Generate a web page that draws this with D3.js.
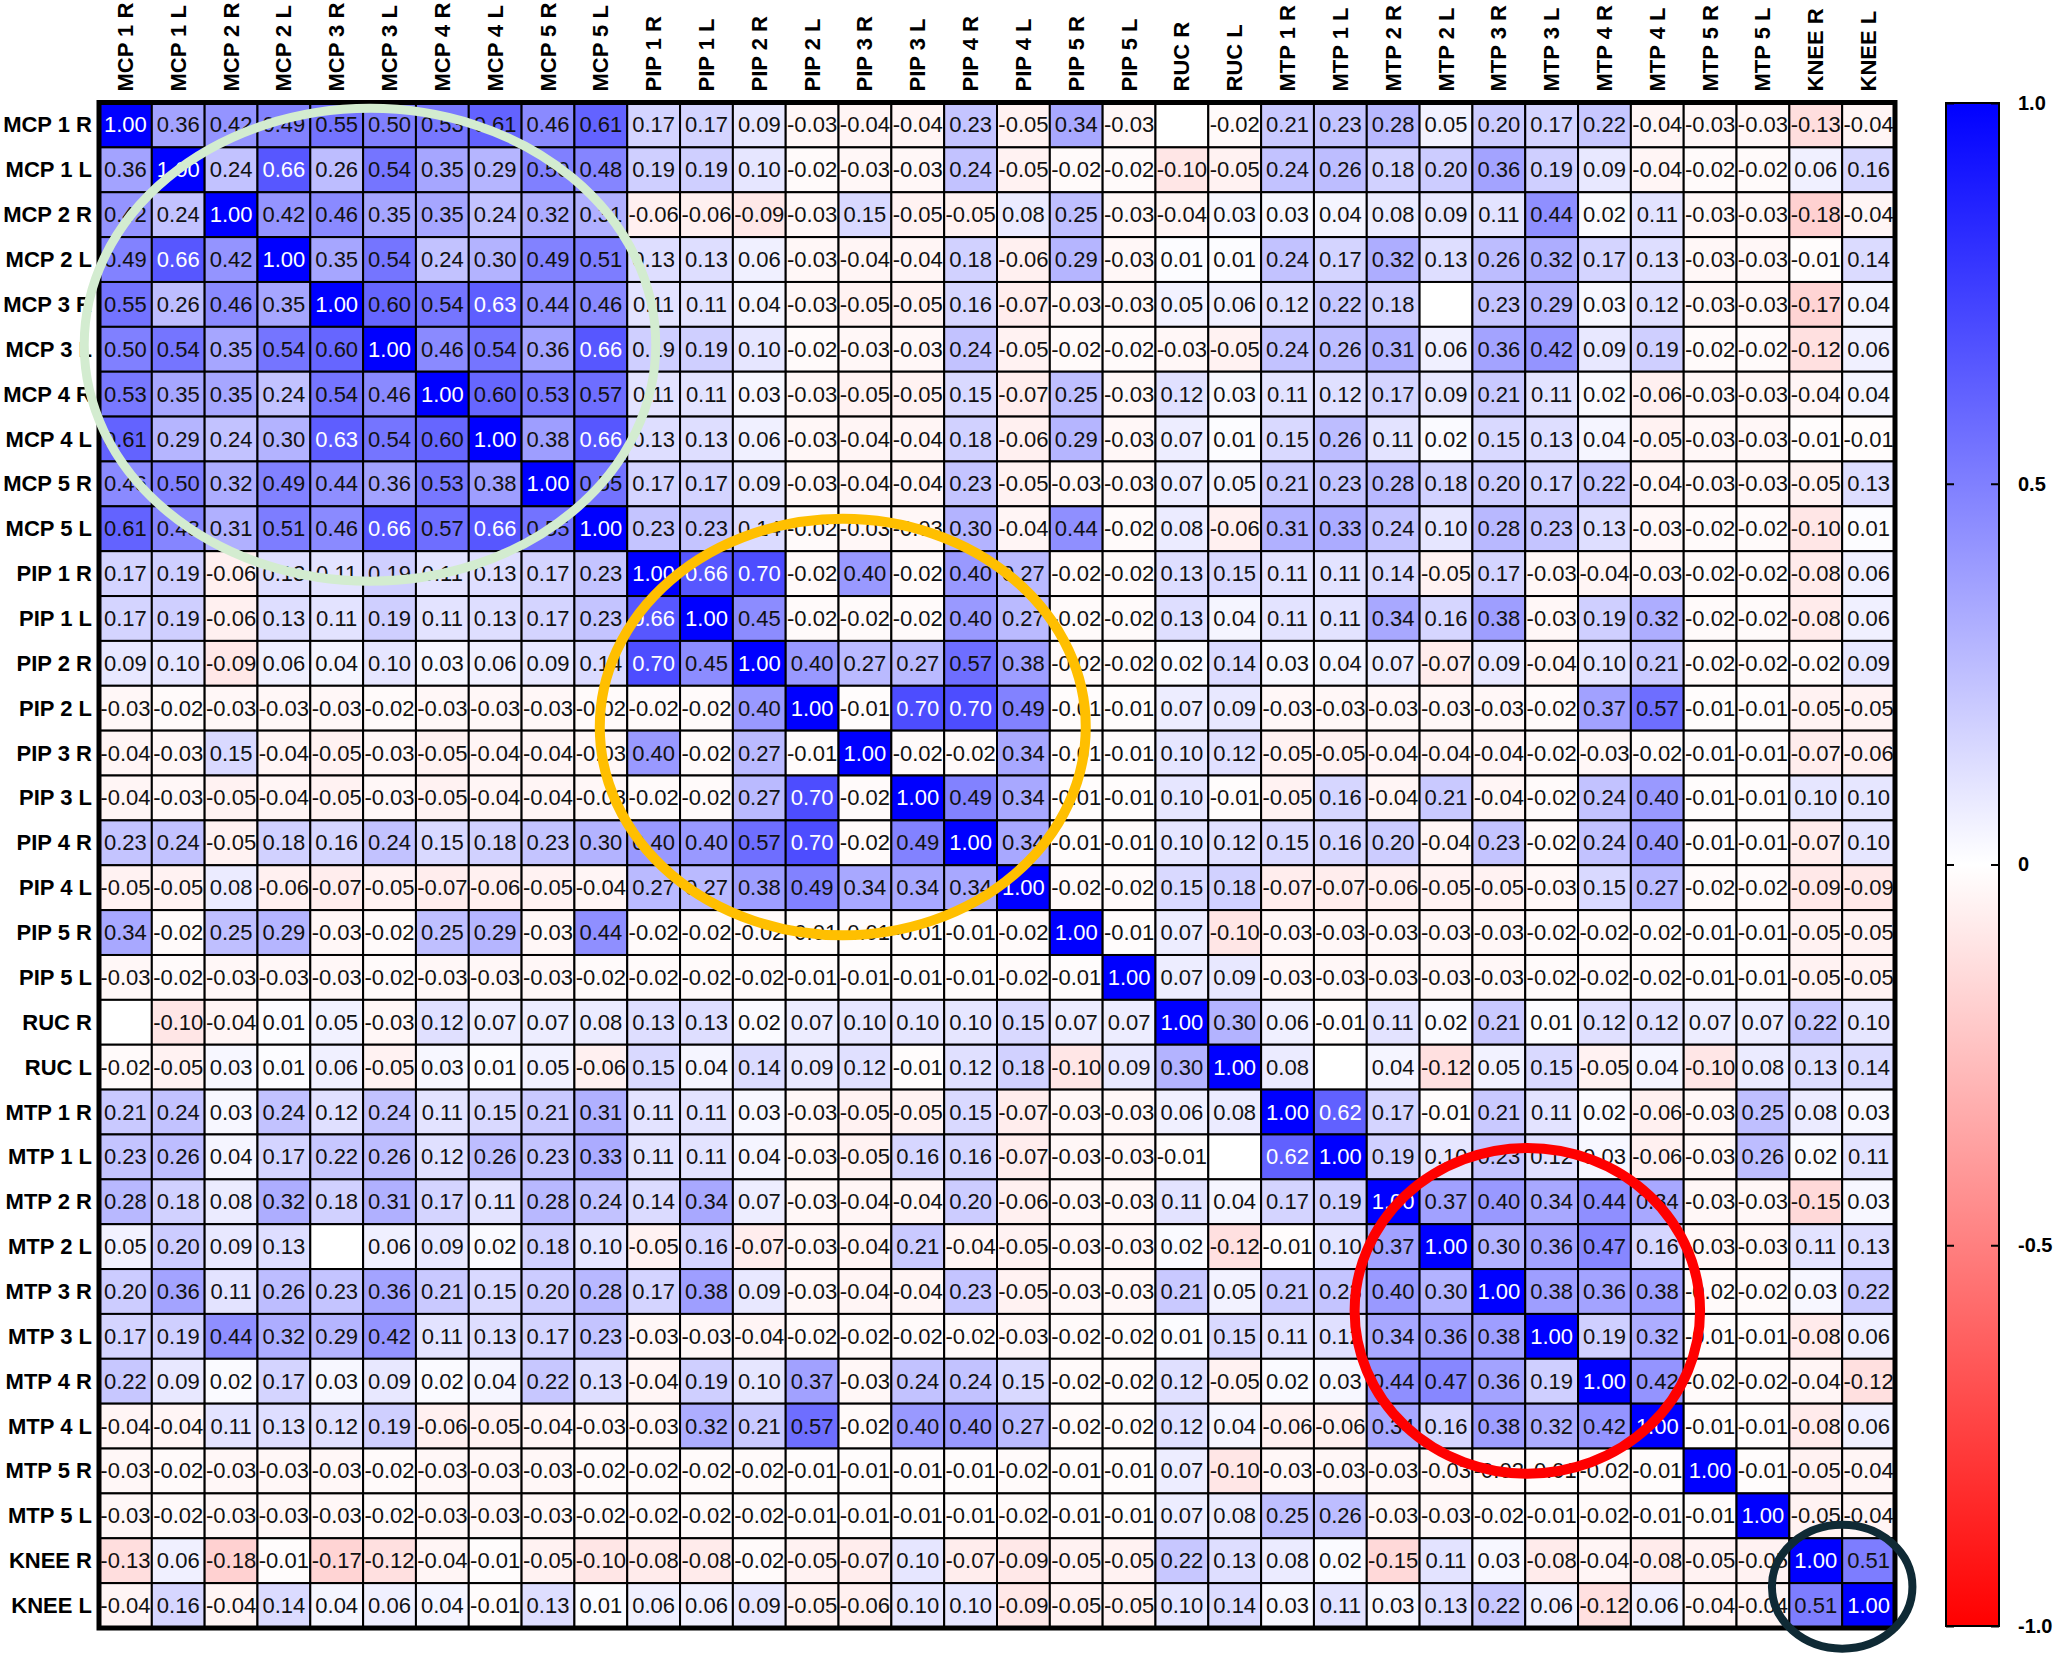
<!DOCTYPE html>
<html>
<head>
<meta charset="utf-8">
<script src="https://cdn.jsdelivr.net/npm/d3@7"></script>
<style>
  html, body { margin: 0; padding: 0; background: #ffffff; }
  svg { display: block; }
  text { font-family: "Liberation Sans", Arial, Helvetica, sans-serif; }
</style>
</head>
<body>
<svg id="chart" width="2056" height="1656"></svg>
<script>
// ---------------- DATA ----------------
const categories = [
  "MCP 1 R","MCP 1 L","MCP 2 R","MCP 2 L","MCP 3 R","MCP 3 L","MCP 4 R","MCP 4 L","MCP 5 R","MCP 5 L",
  "PIP 1 R","PIP 1 L","PIP 2 R","PIP 2 L","PIP 3 R","PIP 3 L","PIP 4 R","PIP 4 L","PIP 5 R","PIP 5 L",
  "RUC R","RUC L","MTP 1 R","MTP 1 L","MTP 2 R","MTP 2 L","MTP 3 R","MTP 3 L","MTP 4 R","MTP 4 L",
  "MTP 5 R","MTP 5 L","KNEE R","KNEE L"
];

// correlation matrix, one row per category (null = blank cell)
const values = [
  [1.00,0.36,0.42,0.49,0.55,0.50,0.53,0.61,0.46,0.61, 0.17,0.17,0.09,-0.03,-0.04,-0.04,0.23,-0.05,0.34,-0.03, null,-0.02,0.21,0.23,0.28,0.05,0.20,0.17,0.22,-0.04, -0.03,-0.03,-0.13,-0.04],
  [0.36,1.00,0.24,0.66,0.26,0.54,0.35,0.29,0.50,0.48, 0.19,0.19,0.10,-0.02,-0.03,-0.03,0.24,-0.05,-0.02,-0.02, -0.10,-0.05,0.24,0.26,0.18,0.20,0.36,0.19,0.09,-0.04, -0.02,-0.02,0.06,0.16],
  [0.42,0.24,1.00,0.42,0.46,0.35,0.35,0.24,0.32,0.31, -0.06,-0.06,-0.09,-0.03,0.15,-0.05,-0.05,0.08,0.25,-0.03, -0.04,0.03,0.03,0.04,0.08,0.09,0.11,0.44,0.02,0.11, -0.03,-0.03,-0.18,-0.04],
  [0.49,0.66,0.42,1.00,0.35,0.54,0.24,0.30,0.49,0.51, 0.13,0.13,0.06,-0.03,-0.04,-0.04,0.18,-0.06,0.29,-0.03, 0.01,0.01,0.24,0.17,0.32,0.13,0.26,0.32,0.17,0.13, -0.03,-0.03,-0.01,0.14],
  [0.55,0.26,0.46,0.35,1.00,0.60,0.54,0.63,0.44,0.46, 0.11,0.11,0.04,-0.03,-0.05,-0.05,0.16,-0.07,-0.03,-0.03, 0.05,0.06,0.12,0.22,0.18,null,0.23,0.29,0.03,0.12, -0.03,-0.03,-0.17,0.04],
  [0.50,0.54,0.35,0.54,0.60,1.00,0.46,0.54,0.36,0.66, 0.19,0.19,0.10,-0.02,-0.03,-0.03,0.24,-0.05,-0.02,-0.02, -0.03,-0.05,0.24,0.26,0.31,0.06,0.36,0.42,0.09,0.19, -0.02,-0.02,-0.12,0.06],
  [0.53,0.35,0.35,0.24,0.54,0.46,1.00,0.60,0.53,0.57, 0.11,0.11,0.03,-0.03,-0.05,-0.05,0.15,-0.07,0.25,-0.03, 0.12,0.03,0.11,0.12,0.17,0.09,0.21,0.11,0.02,-0.06, -0.03,-0.03,-0.04,0.04],
  [0.61,0.29,0.24,0.30,0.63,0.54,0.60,1.00,0.38,0.66, 0.13,0.13,0.06,-0.03,-0.04,-0.04,0.18,-0.06,0.29,-0.03, 0.07,0.01,0.15,0.26,0.11,0.02,0.15,0.13,0.04,-0.05, -0.03,-0.03,-0.01,-0.01],
  [0.46,0.50,0.32,0.49,0.44,0.36,0.53,0.38,1.00,0.55, 0.17,0.17,0.09,-0.03,-0.04,-0.04,0.23,-0.05,-0.03,-0.03, 0.07,0.05,0.21,0.23,0.28,0.18,0.20,0.17,0.22,-0.04, -0.03,-0.03,-0.05,0.13],
  [0.61,0.48,0.31,0.51,0.46,0.66,0.57,0.66,0.55,1.00, 0.23,0.23,0.14,-0.02,-0.03,-0.03,0.30,-0.04,0.44,-0.02, 0.08,-0.06,0.31,0.33,0.24,0.10,0.28,0.23,0.13,-0.03, -0.02,-0.02,-0.10,0.01],
  [0.17,0.19,-0.06,0.13,0.11,0.19,0.11,0.13,0.17,0.23, 1.00,0.66,0.70,-0.02,0.40,-0.02,0.40,0.27,-0.02,-0.02, 0.13,0.15,0.11,0.11,0.14,-0.05,0.17,-0.03,-0.04,-0.03, -0.02,-0.02,-0.08,0.06],
  [0.17,0.19,-0.06,0.13,0.11,0.19,0.11,0.13,0.17,0.23, 0.66,1.00,0.45,-0.02,-0.02,-0.02,0.40,0.27,-0.02,-0.02, 0.13,0.04,0.11,0.11,0.34,0.16,0.38,-0.03,0.19,0.32, -0.02,-0.02,-0.08,0.06],
  [0.09,0.10,-0.09,0.06,0.04,0.10,0.03,0.06,0.09,0.14, 0.70,0.45,1.00,0.40,0.27,0.27,0.57,0.38,-0.02,-0.02, 0.02,0.14,0.03,0.04,0.07,-0.07,0.09,-0.04,0.10,0.21, -0.02,-0.02,-0.02,0.09],
  [-0.03,-0.02,-0.03,-0.03,-0.03,-0.02,-0.03,-0.03,-0.03,-0.02, -0.02,-0.02,0.40,1.00,-0.01,0.70,0.70,0.49,-0.01,-0.01, 0.07,0.09,-0.03,-0.03,-0.03,-0.03,-0.03,-0.02,0.37,0.57, -0.01,-0.01,-0.05,-0.05],
  [-0.04,-0.03,0.15,-0.04,-0.05,-0.03,-0.05,-0.04,-0.04,-0.03, 0.40,-0.02,0.27,-0.01,1.00,-0.02,-0.02,0.34,-0.01,-0.01, 0.10,0.12,-0.05,-0.05,-0.04,-0.04,-0.04,-0.02,-0.03,-0.02, -0.01,-0.01,-0.07,-0.06],
  [-0.04,-0.03,-0.05,-0.04,-0.05,-0.03,-0.05,-0.04,-0.04,-0.03, -0.02,-0.02,0.27,0.70,-0.02,1.00,0.49,0.34,-0.01,-0.01, 0.10,-0.01,-0.05,0.16,-0.04,0.21,-0.04,-0.02,0.24,0.40, -0.01,-0.01,0.10,0.10],
  [0.23,0.24,-0.05,0.18,0.16,0.24,0.15,0.18,0.23,0.30, 0.40,0.40,0.57,0.70,-0.02,0.49,1.00,0.34,-0.01,-0.01, 0.10,0.12,0.15,0.16,0.20,-0.04,0.23,-0.02,0.24,0.40, -0.01,-0.01,-0.07,0.10],
  [-0.05,-0.05,0.08,-0.06,-0.07,-0.05,-0.07,-0.06,-0.05,-0.04, 0.27,0.27,0.38,0.49,0.34,0.34,0.34,1.00,-0.02,-0.02, 0.15,0.18,-0.07,-0.07,-0.06,-0.05,-0.05,-0.03,0.15,0.27, -0.02,-0.02,-0.09,-0.09],
  [0.34,-0.02,0.25,0.29,-0.03,-0.02,0.25,0.29,-0.03,0.44, -0.02,-0.02,-0.02,-0.01,-0.01,-0.01,-0.01,-0.02,1.00,-0.01, 0.07,-0.10,-0.03,-0.03,-0.03,-0.03,-0.03,-0.02,-0.02,-0.02, -0.01,-0.01,-0.05,-0.05],
  [-0.03,-0.02,-0.03,-0.03,-0.03,-0.02,-0.03,-0.03,-0.03,-0.02, -0.02,-0.02,-0.02,-0.01,-0.01,-0.01,-0.01,-0.02,-0.01,1.00, 0.07,0.09,-0.03,-0.03,-0.03,-0.03,-0.03,-0.02,-0.02,-0.02, -0.01,-0.01,-0.05,-0.05],
  [null,-0.10,-0.04,0.01,0.05,-0.03,0.12,0.07,0.07,0.08, 0.13,0.13,0.02,0.07,0.10,0.10,0.10,0.15,0.07,0.07, 1.00,0.30,0.06,-0.01,0.11,0.02,0.21,0.01,0.12,0.12, 0.07,0.07,0.22,0.10],
  [-0.02,-0.05,0.03,0.01,0.06,-0.05,0.03,0.01,0.05,-0.06, 0.15,0.04,0.14,0.09,0.12,-0.01,0.12,0.18,-0.10,0.09, 0.30,1.00,0.08,null,0.04,-0.12,0.05,0.15,-0.05,0.04, -0.10,0.08,0.13,0.14],
  [0.21,0.24,0.03,0.24,0.12,0.24,0.11,0.15,0.21,0.31, 0.11,0.11,0.03,-0.03,-0.05,-0.05,0.15,-0.07,-0.03,-0.03, 0.06,0.08,1.00,0.62,0.17,-0.01,0.21,0.11,0.02,-0.06, -0.03,0.25,0.08,0.03],
  [0.23,0.26,0.04,0.17,0.22,0.26,0.12,0.26,0.23,0.33, 0.11,0.11,0.04,-0.03,-0.05,0.16,0.16,-0.07,-0.03,-0.03, -0.01,null,0.62,1.00,0.19,0.10,0.23,0.12,0.03,-0.06, -0.03,0.26,0.02,0.11],
  [0.28,0.18,0.08,0.32,0.18,0.31,0.17,0.11,0.28,0.24, 0.14,0.34,0.07,-0.03,-0.04,-0.04,0.20,-0.06,-0.03,-0.03, 0.11,0.04,0.17,0.19,1.00,0.37,0.40,0.34,0.44,0.34, -0.03,-0.03,-0.15,0.03],
  [0.05,0.20,0.09,0.13,null,0.06,0.09,0.02,0.18,0.10, -0.05,0.16,-0.07,-0.03,-0.04,0.21,-0.04,-0.05,-0.03,-0.03, 0.02,-0.12,-0.01,0.10,0.37,1.00,0.30,0.36,0.47,0.16, -0.03,-0.03,0.11,0.13],
  [0.20,0.36,0.11,0.26,0.23,0.36,0.21,0.15,0.20,0.28, 0.17,0.38,0.09,-0.03,-0.04,-0.04,0.23,-0.05,-0.03,-0.03, 0.21,0.05,0.21,0.23,0.40,0.30,1.00,0.38,0.36,0.38, -0.02,-0.02,0.03,0.22],
  [0.17,0.19,0.44,0.32,0.29,0.42,0.11,0.13,0.17,0.23, -0.03,-0.03,-0.04,-0.02,-0.02,-0.02,-0.02,-0.03,-0.02,-0.02, 0.01,0.15,0.11,0.12,0.34,0.36,0.38,1.00,0.19,0.32, -0.01,-0.01,-0.08,0.06],
  [0.22,0.09,0.02,0.17,0.03,0.09,0.02,0.04,0.22,0.13, -0.04,0.19,0.10,0.37,-0.03,0.24,0.24,0.15,-0.02,-0.02, 0.12,-0.05,0.02,0.03,0.44,0.47,0.36,0.19,1.00,0.42, -0.02,-0.02,-0.04,-0.12],
  [-0.04,-0.04,0.11,0.13,0.12,0.19,-0.06,-0.05,-0.04,-0.03, -0.03,0.32,0.21,0.57,-0.02,0.40,0.40,0.27,-0.02,-0.02, 0.12,0.04,-0.06,-0.06,0.34,0.16,0.38,0.32,0.42,1.00, -0.01,-0.01,-0.08,0.06],
  [-0.03,-0.02,-0.03,-0.03,-0.03,-0.02,-0.03,-0.03,-0.03,-0.02, -0.02,-0.02,-0.02,-0.01,-0.01,-0.01,-0.01,-0.02,-0.01,-0.01, 0.07,-0.10,-0.03,-0.03,-0.03,-0.03,-0.02,-0.01,-0.02,-0.01, 1.00,-0.01,-0.05,-0.04],
  [-0.03,-0.02,-0.03,-0.03,-0.03,-0.02,-0.03,-0.03,-0.03,-0.02, -0.02,-0.02,-0.02,-0.01,-0.01,-0.01,-0.01,-0.02,-0.01,-0.01, 0.07,0.08,0.25,0.26,-0.03,-0.03,-0.02,-0.01,-0.02,-0.01, -0.01,1.00,-0.05,-0.04],
  [-0.13,0.06,-0.18,-0.01,-0.17,-0.12,-0.04,-0.01,-0.05,-0.10, -0.08,-0.08,-0.02,-0.05,-0.07,0.10,-0.07,-0.09,-0.05,-0.05, 0.22,0.13,0.08,0.02,-0.15,0.11,0.03,-0.08,-0.04,-0.08, -0.05,-0.05,1.00,0.51],
  [-0.04,0.16,-0.04,0.14,0.04,0.06,0.04,-0.01,0.13,0.01, 0.06,0.06,0.09,-0.05,-0.06,0.10,0.10,-0.09,-0.05,-0.05, 0.10,0.14,0.03,0.11,0.03,0.13,0.22,0.06,-0.12,0.06, -0.04,-0.04,0.51,1.00]
];

const colorDomain = [-1, 0, 1];
const colorTicks = [1.0, 0.5, 0, -0.5, -1.0];
const colorTickLabels = ["1.0", "0.5", "0", "-0.5", "-1.0"];

// highlighted blocks, in grid (cell) units measured from the top-left corner
const highlightCx = [5.13, 14.08, 27.04, 33.0];
const highlightCy = [5.40, 13.92, 26.93, 33.08];
const highlightRx = [5.41, 4.60, 3.27, 1.33];
const highlightRy = [5.27, 4.64, 3.63, 1.38];

// ---------------- STYLE / LAYOUT ----------------
const W = 2056, H = 1656;
const gridLeft = 99, gridRight = 1895, gridTop = 102.5, gridBottom = 1628;
const barLeft = 1946, barRight = 1999, barTop = 103, barBottom = 1626;
const highlightColors = ["#d3ecd0", "#ffbf00", "#ff0000", "#0f2a35"];
const highlightWidths = [9, 10, 10, 8];

const svg = d3.select("#chart");
svg.append("rect").attr("width", W).attr("height", H).attr("fill", "#ffffff");

const x = d3.scaleBand().domain(categories).range([gridLeft, gridRight]).padding(0);
const y = d3.scaleBand().domain(categories).range([gridTop, gridBottom]).padding(0);
const gx = d3.scaleLinear().domain([0, categories.length]).range([gridLeft, gridRight]);
const gy = d3.scaleLinear().domain([0, categories.length]).range([gridTop, gridBottom]);
const color = d3.scaleLinear().domain(colorDomain).range(["#ff0000", "#ffffff", "#0000ff"]);
const fmt = d3.formatLocale({decimal: ".", thousands: ",", grouping: [3], currency: ["", ""], minus: "-"}).format(".2f");

const cells = [];
values.forEach((row, i) => row.forEach((v, j) => cells.push({r: categories[i], c: categories[j], v})));

// cells
const g = svg.append("g");
g.selectAll("rect.cell").data(cells).join("rect")
  .attr("class", "cell")
  .attr("x", d => x(d.c))
  .attr("y", d => y(d.r))
  .attr("width", x.bandwidth())
  .attr("height", y.bandwidth())
  .attr("fill", d => d.v === null ? "#ffffff" : color(d.v))
  .attr("stroke", "#000")
  .attr("stroke-width", 2);

g.selectAll("text.val").data(cells.filter(d => d.v !== null)).join("text")
  .attr("class", "val")
  .attr("x", d => x(d.c) + x.bandwidth() / 2)
  .attr("y", d => y(d.r) + y.bandwidth() / 2)
  .attr("text-anchor", "middle")
  .attr("dominant-baseline", "central")
  .attr("font-size", 22)
  .attr("fill", d => d.v > 0.615 ? "#ffffff" : "#111111")
  .text(d => fmt(d.v));

// outer border
svg.append("rect")
  .attr("x", gridLeft).attr("y", gridTop)
  .attr("width", gridRight - gridLeft).attr("height", gridBottom - gridTop)
  .attr("fill", "none").attr("stroke", "#000").attr("stroke-width", 5);

// row labels
svg.selectAll("text.rowlab").data(categories).join("text")
  .attr("class", "rowlab")
  .attr("x", gridLeft - 7)
  .attr("y", d => y(d) + y.bandwidth() / 2)
  .attr("text-anchor", "end")
  .attr("dominant-baseline", "central")
  .attr("font-size", 22)
  .attr("font-weight", "bold")
  .attr("fill", "#000")
  .text(d => d);

// column labels
svg.selectAll("text.collab").data(categories).join("text")
  .attr("class", "collab")
  .attr("transform", d => `translate(${x(d) + x.bandwidth() / 2},${gridTop - 11}) rotate(-90)`)
  .attr("text-anchor", "start")
  .attr("dominant-baseline", "central")
  .attr("font-size", 22)
  .attr("font-weight", "bold")
  .attr("fill", "#000")
  .text(d => d);

// highlight ellipses
svg.selectAll("ellipse.hl").data(highlightCx.map((cx, i) => i)).join("ellipse")
  .attr("class", "hl")
  .attr("cx", i => gx(highlightCx[i]))
  .attr("cy", i => gy(highlightCy[i]))
  .attr("rx", i => gx(highlightRx[i]) - gx(0))
  .attr("ry", i => gy(highlightRy[i]) - gy(0))
  .attr("fill", "none")
  .attr("stroke", i => highlightColors[i])
  .attr("stroke-width", i => highlightWidths[i]);

// color bar
const yc = d3.scaleLinear().domain([1, -1]).range([barTop, barBottom]);
const defs = svg.append("defs");
const grad = defs.append("linearGradient").attr("id", "cbar")
  .attr("x1", 0).attr("y1", 0).attr("x2", 0).attr("y2", 1);
[1, 0, -1].forEach(v => grad.append("stop")
  .attr("offset", (yc(v) - barTop) / (barBottom - barTop))
  .attr("stop-color", color(v)));

svg.append("rect")
  .attr("x", barLeft).attr("y", barTop)
  .attr("width", barRight - barLeft).attr("height", barBottom - barTop)
  .attr("fill", "url(#cbar)").attr("stroke", "#000").attr("stroke-width", 2);

const axR = svg.append("g").attr("transform", `translate(${barRight},0)`)
  .call(d3.axisRight(yc).tickValues(colorTicks).tickSize(-8).tickPadding(19)
    .tickFormat((d, i) => colorTickLabels[i]));
axR.select(".domain").remove();
axR.selectAll("line").attr("stroke", "#000").attr("stroke-width", 2);
axR.selectAll("text").attr("font-size", 20).attr("font-weight", "bold").attr("fill", "#000")
  .attr("font-family", "'Liberation Sans', Arial, sans-serif");

const axL = svg.append("g").attr("transform", `translate(${barLeft},0)`)
  .call(d3.axisLeft(yc).tickValues(colorTicks).tickSize(-8).tickFormat(""));
axL.select(".domain").remove();
axL.selectAll("line").attr("stroke", "#000").attr("stroke-width", 2);
</script>
</body>
</html>
